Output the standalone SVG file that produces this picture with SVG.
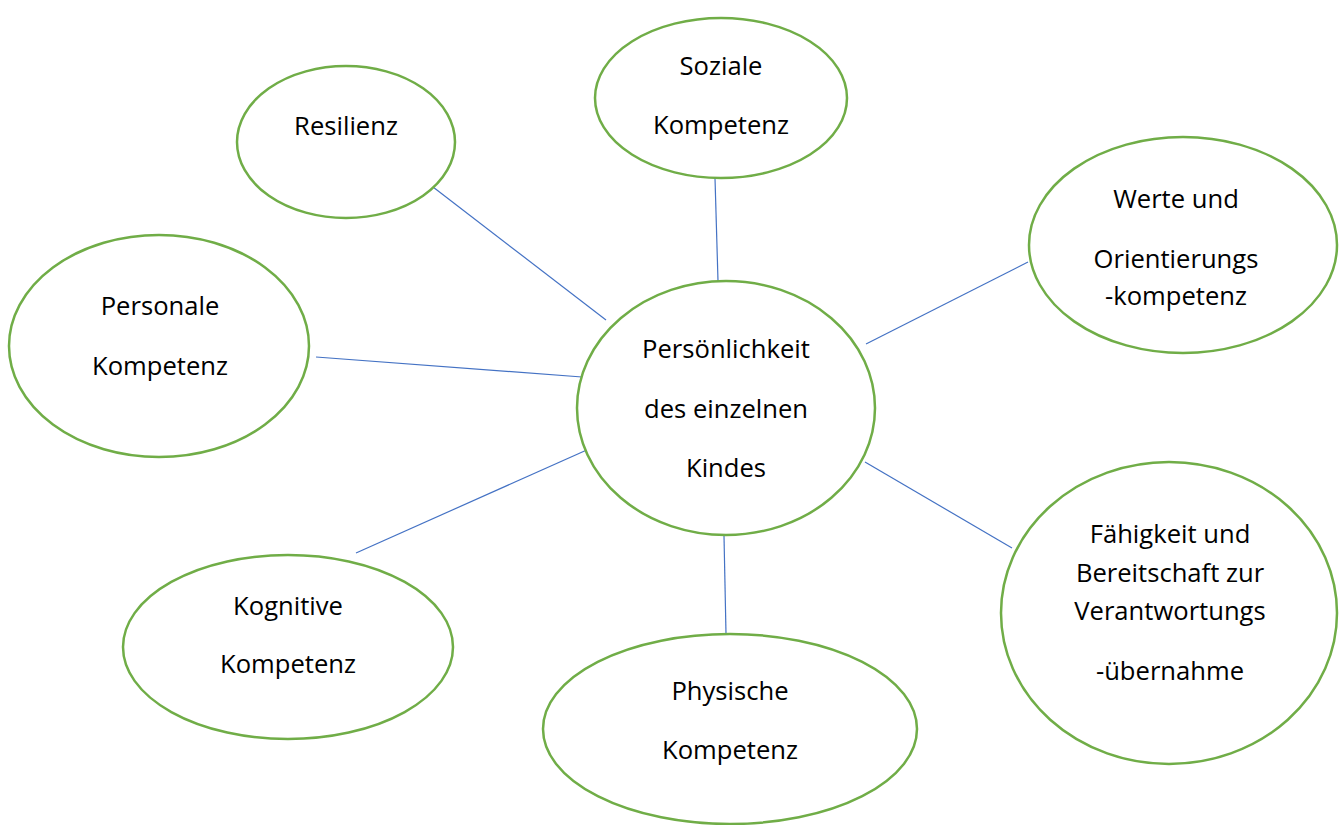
<svg xmlns="http://www.w3.org/2000/svg" width="1339" height="825" viewBox="0 0 1339 825">
<style>
.n ellipse{fill:#fff;stroke:#70ad47;stroke-width:2.5}
.n text{font-family:"Open Sans","Noto Sans",sans-serif;font-size:25.6px;fill:#000;text-anchor:middle}
.c line{stroke:#4472c4;stroke-width:1.2}
</style>
<rect width="1339" height="825" fill="#fff"/>
<g class="c" id="connectors">
<line x1="433" y1="187" x2="606" y2="320"/>
<line x1="715" y1="178" x2="718" y2="281"/>
<line x1="1028" y1="262" x2="866" y2="344"/>
<line x1="316" y1="357" x2="582" y2="377"/>
<line x1="356" y1="553" x2="589" y2="449"/>
<line x1="724" y1="536" x2="726" y2="634"/>
<line x1="865" y1="462" x2="1012" y2="548"/>
</g>
<g class="n" id="center">
<ellipse cx="726" cy="408" rx="149" ry="127"/>
<text x="726" y="358">Persönlichkeit</text>
<text x="726" y="418">des einzelnen</text>
<text x="726" y="477">Kindes</text>
</g>
<g class="n" id="resilienz">
<ellipse cx="346" cy="142" rx="109" ry="76"/>
<text x="346" y="135">Resilienz</text>
</g>
<g class="n" id="soziale">
<ellipse cx="721" cy="98" rx="126" ry="80"/>
<text x="721" y="75">Soziale</text>
<text x="721" y="134">Kompetenz</text>
</g>
<g class="n" id="werte">
<ellipse cx="1183" cy="245" rx="154" ry="108"/>
<text x="1176" y="208">Werte und</text>
<text x="1176" y="268">Orientierungs</text>
<text x="1176" y="305">-kompetenz</text>
</g>
<g class="n" id="personale">
<ellipse cx="159" cy="346" rx="150" ry="111"/>
<text x="160" y="315">Personale</text>
<text x="160" y="375">Kompetenz</text>
</g>
<g class="n" id="kognitive">
<ellipse cx="288" cy="647" rx="165" ry="92"/>
<text x="288" y="615">Kognitive</text>
<text x="288" y="673">Kompetenz</text>
</g>
<g class="n" id="physische">
<ellipse cx="730" cy="729" rx="187" ry="95"/>
<text x="730" y="700">Physische</text>
<text x="730" y="759">Kompetenz</text>
</g>
<g class="n" id="faehigkeit">
<ellipse cx="1169" cy="613" rx="168" ry="151"/>
<text x="1170" y="543">Fähigkeit und</text>
<text x="1170" y="582">Bereitschaft zur</text>
<text x="1170" y="620">Verantwortungs</text>
<text x="1170" y="680">-übernahme</text>
</g>
</svg>
